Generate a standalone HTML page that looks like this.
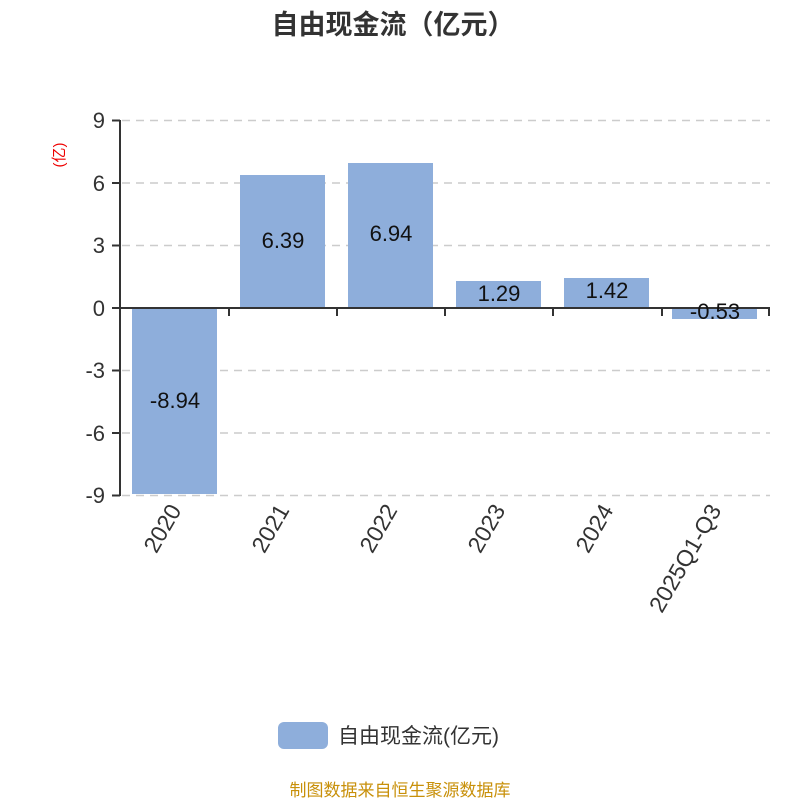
<!DOCTYPE html>
<html><head><meta charset="utf-8"><style>body{margin:0;background:#fff}svg{display:block}</style></head><body>
<svg width="800" height="800" xmlns="http://www.w3.org/2000/svg" font-family="Liberation Sans, Noto Sans CJK SC, sans-serif">
<text x="393" y="34" text-anchor="middle" font-size="27" font-weight="bold" fill="#333">自由现金流（亿元）</text>
<g stroke="#ccc" stroke-width="1.5" stroke-dasharray="8,6">
<line x1="122" y1="120.5" x2="770" y2="120.5"/><line x1="122" y1="183" x2="770" y2="183"/><line x1="122" y1="245.5" x2="770" y2="245.5"/><line x1="122" y1="370.5" x2="770" y2="370.5"/><line x1="122" y1="433" x2="770" y2="433"/><line x1="122" y1="495.5" x2="770" y2="495.5"/>
</g>
<g fill="#8eaedb">
<rect x="132" y="308" width="85" height="186"/>
<rect x="240" y="175" width="85" height="133"/>
<rect x="348" y="163" width="85" height="145"/>
<rect x="456" y="281" width="85" height="27"/>
<rect x="564" y="278" width="85" height="30"/>
<rect x="672" y="308" width="85" height="11"/>
</g>
<g stroke="#333" stroke-width="2" fill="none">
<line x1="120" y1="120" x2="120" y2="496"/>
<line x1="112" y1="120.5" x2="120" y2="120.5"/><line x1="112" y1="183" x2="120" y2="183"/><line x1="112" y1="245.5" x2="120" y2="245.5"/><line x1="112" y1="308" x2="120" y2="308"/><line x1="112" y1="370.5" x2="120" y2="370.5"/><line x1="112" y1="433" x2="120" y2="433"/><line x1="112" y1="495.5" x2="120" y2="495.5"/>
<line x1="120" y1="308" x2="770" y2="308"/>
<line x1="229" y1="308" x2="229" y2="316"/><line x1="337" y1="308" x2="337" y2="316"/><line x1="445" y1="308" x2="445" y2="316"/><line x1="553" y1="308" x2="553" y2="316"/><line x1="662" y1="308" x2="662" y2="316"/><line x1="769" y1="308" x2="769" y2="316"/>
</g>
<g font-size="22" fill="#333" text-anchor="end">
<text x="105" y="128">9</text><text x="105" y="191">6</text><text x="105" y="253">3</text><text x="105" y="316">0</text><text x="105" y="378">-3</text><text x="105" y="441">-6</text><text x="105" y="503">-9</text>
</g>
<text transform="translate(64,155) rotate(-90)" text-anchor="middle" font-size="15" fill="#e00">(亿)</text>
<g font-size="22" fill="#111" text-anchor="middle">
<text x="175" y="408">-8.94</text><text x="283" y="248">6.39</text><text x="391" y="241">6.94</text><text x="499" y="301">1.29</text><text x="607" y="298">1.42</text><text x="715" y="319">-0.53</text>
</g>
<g font-size="23" fill="#333" text-anchor="end">
<text transform="translate(182,510) rotate(-60)">2020</text>
<text transform="translate(290,510) rotate(-60)">2021</text>
<text transform="translate(398,510) rotate(-60)">2022</text>
<text transform="translate(506,510) rotate(-60)">2023</text>
<text transform="translate(614,510) rotate(-60)">2024</text>
<text transform="translate(722,510) rotate(-60)">2025Q1-Q3</text>
</g>
<rect x="278" y="722" width="50" height="27" rx="6" fill="#8eaedb"/>
<text x="338" y="743" font-size="21" fill="#333">自由现金流(亿元)</text>
<text x="400" y="796" text-anchor="middle" font-size="17" fill="#c8900a">制图数据来自恒生聚源数据库</text>
</svg>
</body></html>
